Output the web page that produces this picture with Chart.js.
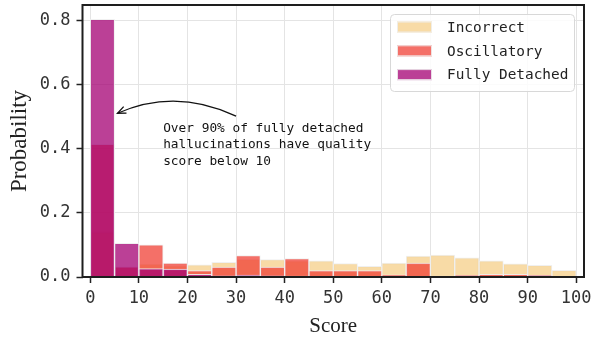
<!DOCTYPE html>
<html lang="en">
<head>
    <meta charset="UTF-8">
    <title>Score distribution</title>
    <script src="https://cdn.jsdelivr.net/npm/chart.js"></script>
    <style>
        body {
            margin: 0;
            background: #fff;
        }
        .chart-box {
            width: 601px;
            height: 339px;
        }
    </style>
</head>
<body>
    <div class="chart-box">
        <canvas id="scoreChart" width="601" height="339"></canvas>
    </div>

    <script>
        // bins of width 5 on the score axis (left edges)
        const binStarts = [0, 5, 10, 15, 20, 25, 30, 35, 40, 45, 50, 55, 60, 65, 70, 75, 80, 85, 90, 95];

        const incorrect = [0.14, 0.03, 0.04, 0.035, 0.038, 0.046, 0.055, 0.054, 0.05, 0.05,
                           0.042, 0.033, 0.043, 0.065, 0.068, 0.06, 0.05, 0.041, 0.036, 0.021];
        const oscillatory = [0.413, 0.032, 0.10, 0.043, 0.02, 0.031, 0.067, 0.031, 0.057, 0.02,
                             0.02, 0.02, 0.007, 0.043, 0.003, 0.005, 0.008, 0.008, 0.005, 0.0];
        const fullyDetached = [0.802, 0.105, 0.026, 0.025, 0.008, 0.004, 0.006, 0.004, 0.003, 0.002,
                               0.002, 0.001, 0.001, 0.002, 0.0, 0.001, 0.001, 0.001, 0.004, 0.0];

        const seriesNames = ['Incorrect', 'Oscillatory', 'Fully Detached'];
        const xTicks = [0, 10, 20, 30, 40, 50, 60, 70, 80, 90, 100];
        const yTicks = [0, 0.2, 0.4, 0.6, 0.8];
        const noteLines = ['Over 90% of fully detached', 'hallucinations have quality', 'score below 10'];

        const colors = {
            'Incorrect': 'rgba(246, 207, 136, 0.75)',
            'Oscillatory': 'rgba(240, 64, 54, 0.75)',
            'Fully Detached': 'rgba(164, 0, 115, 0.75)'
        };

        const MONO = '"DejaVu Sans Mono", monospace';
        const SERIF = '"Liberation Serif", "DejaVu Serif", serif';

        function toPoints(values) {
            return values.map((v, i) => ({ x: binStarts[i] + 2.5, y: v }));
        }

        function makeDataset(name, values) {
            return {
                label: name,
                data: toPoints(values),
                backgroundColor: colors[name],
                borderColor: 'rgba(238, 238, 238, 0.9)',
                borderWidth: 1,
                barPercentage: 1,
                categoryPercentage: 1,
                grouped: false
            };
        }

        function noPad(s) {
            s.paddingTop = 0;
            s.paddingBottom = 0;
            s.paddingLeft = 0;
            s.paddingRight = 0;
        }

        // frame round the plot area
        const framePlugin = {
            id: 'frame',
            afterDraw(chart) {
                const { ctx, chartArea: a } = chart;
                ctx.save();
                ctx.strokeStyle = '#1e1e1e';
                ctx.lineWidth = 2;
                ctx.strokeRect(a.left, a.top, a.right - a.left, a.bottom - a.top);
                ctx.restore();
            }
        };

        // curved arrow + note, placed in data units
        const notePlugin = {
            id: 'note',
            afterDatasetsDraw(chart) {
                const { ctx, scales } = chart;
                const px = v => scales.x.getPixelForValue(v);
                const py = v => scales.y.getPixelForValue(v);
                ctx.save();
                ctx.fillStyle = '#111';
                ctx.font = '12.8px ' + MONO;
                ctx.textBaseline = 'alphabetic';
                const lineY = [0.452, 0.401, 0.350];
                noteLines.forEach((t, i) => ctx.fillText(t, px(15), py(lineY[i])));

                const x0 = px(30), y0 = py(0.501);
                const cx = px(17.6), cy = py(0.59);
                const x1 = px(5.6), y1 = py(0.51);
                ctx.strokeStyle = '#111';
                ctx.lineWidth = 1.3;
                ctx.beginPath();
                ctx.moveTo(x0, y0);
                ctx.quadraticCurveTo(cx, cy, x1, y1);
                ctx.stroke();
                // open arrow head
                const ang = Math.atan2(y1 - cy, x1 - cx);
                const len = 9;
                ctx.beginPath();
                ctx.moveTo(x1 + len * Math.cos(ang + Math.PI - 0.4), y1 + len * Math.sin(ang + Math.PI - 0.4));
                ctx.lineTo(x1, y1);
                ctx.lineTo(x1 + len * Math.cos(ang + Math.PI + 0.4), y1 + len * Math.sin(ang + Math.PI + 0.4));
                ctx.stroke();
                ctx.restore();
            }
        };

        // legend box inside the upper right corner
        const legendPlugin = {
            id: 'boxLegend',
            afterDatasetsDraw(chart) {
                const { ctx, chartArea: a } = chart;
                const w = 184, h = 77;
                const left = a.right - 10 - w, top = a.top + 9;
                ctx.save();
                ctx.fillStyle = 'rgba(255, 255, 255, 0.85)';
                ctx.strokeStyle = '#d8d8d8';
                ctx.lineWidth = 1;
                ctx.beginPath();
                ctx.roundRect(left + 0.5, top + 0.5, w, h, 4);
                ctx.fill();
                ctx.stroke();
                ctx.font = '14.4px ' + MONO;
                ctx.textBaseline = 'middle';
                seriesNames.forEach((name, i) => {
                    const yc = top + 13 + i * 23.8;
                    ctx.fillStyle = colors[name];
                    ctx.fillRect(left + 7, yc - 5.5, 35, 11);
                    ctx.strokeStyle = 'rgba(238, 238, 238, 0.9)';
                    ctx.strokeRect(left + 7.5, yc - 5, 34, 10);
                    ctx.fillStyle = '#222';
                    ctx.fillText(name, left + 57, yc + 1);
                });
                ctx.restore();
            }
        };

        new Chart(document.getElementById('scoreChart'), {
            type: 'bar',
            data: {
                // first dataset is drawn on top
                datasets: [
                    makeDataset('Fully Detached', fullyDetached),
                    makeDataset('Oscillatory', oscillatory),
                    makeDataset('Incorrect', incorrect)
                ]
            },
            options: {
                responsive: false,
                animation: false,
                layout: { padding: { top: 5, right: 17, left: 0, bottom: 0 } },
                plugins: {
                    legend: { display: false },
                    tooltip: { enabled: false }
                },
                scales: {
                    x: {
                        type: 'linear',
                        min: -1.6,
                        max: 101.6,
                        offset: false,
                        grid: {
                            offset: false,
                            color: '#e4e4e4',
                            tickColor: '#222',
                            tickLength: 6,
                            tickWidth: 1.5
                        },
                        border: { display: false },
                        afterBuildTicks: s => { s.ticks = xTicks.map(v => ({ value: v })); },
                        afterFit: s => { s.height = 62; noPad(s); },
                        ticks: {
                            color: '#333',
                            padding: 5,
                            maxRotation: 0,
                            font: { family: MONO, size: 17 },
                            callback: v => String(v)
                        },
                        title: {
                            display: true,
                            text: 'Score',
                            color: '#222',
                            padding: { top: 2, bottom: 0 },
                            font: { family: SERIF, size: 21 }
                        }
                    },
                    y: {
                        min: 0,
                        max: 0.847,
                        grid: {
                            color: '#e4e4e4',
                            tickColor: '#222',
                            tickLength: 6,
                            tickWidth: 1.5
                        },
                        border: { display: false },
                        afterBuildTicks: s => { s.ticks = yTicks.map(v => ({ value: v })); },
                        afterFit: s => { s.width = 82.5; noPad(s); },
                        ticks: {
                            color: '#333',
                            padding: 6,
                            font: { family: MONO, size: 17 },
                            callback: v => v.toFixed(1)
                        },
                        title: {
                            display: true,
                            text: 'Probability',
                            color: '#222',
                            padding: { top: 6, bottom: 0 },
                            font: { family: SERIF, size: 23 }
                        }
                    }
                }
            },
            plugins: [framePlugin, notePlugin, legendPlugin]
        });
    </script>
</body>
</html>
